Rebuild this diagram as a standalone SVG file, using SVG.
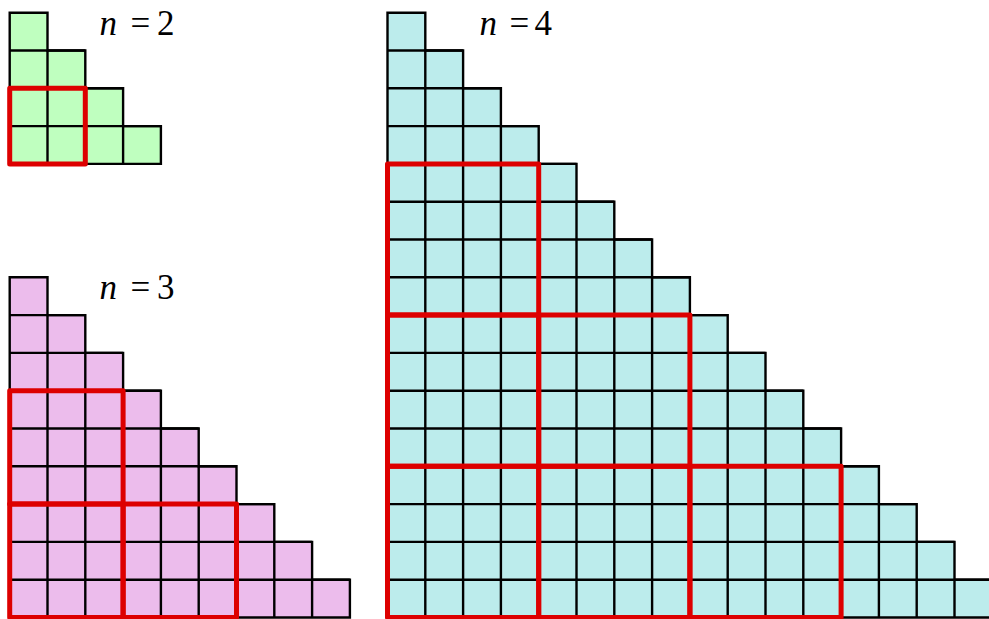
<svg xmlns="http://www.w3.org/2000/svg" width="989" height="619" viewBox="0 0 989 619">
<style>
.cell{stroke:#000;stroke-width:2.4;vector-effect:non-scaling-stroke;stroke-linejoin:miter}
.grid{fill:none;stroke:#000;stroke-width:2.4;vector-effect:non-scaling-stroke}
.red{fill:none;stroke:#dd0000;stroke-width:5;vector-effect:non-scaling-stroke;stroke-linejoin:round}
.g{fill:#bfffbf}.p{fill:#ecbcec}.c{fill:#bcecec}
.lbl{font-family:'Liberation Serif','Times New Roman',serif;font-size:35px;fill:#000}
</style>
<rect width="989" height="619" fill="#fff"/>
<g id="n2">
<g transform="translate(9.7,12.7) scale(37.8)">
<polygon class="cell g" points="0,0 1,0 1,1 2,1 2,2 3,2 3,3 4,3 4,4 0,4"/>
<path class="grid" d="M0 1H2M0 2H3M0 3H4M1 1V4M2 2V4M3 3V4"/>
<rect class="red" x="0" y="2" width="2" height="2"/>
</g>
<g class="lbl">
<text x="99.5" y="35" font-style="italic">n</text><text x="130.5" y="35">=</text><text x="157" y="35">2</text>
</g>
</g>
<g id="n3">
<g transform="translate(9.7,277.3) scale(37.8)">
<polygon class="cell p" points="0,0 1,0 1,1 2,1 2,2 3,2 3,3 4,3 4,4 5,4 5,5 6,5 6,6 7,6 7,7 8,7 8,8 9,8 9,9 0,9"/>
<path class="grid" d="M0 1H2M0 2H3M0 3H4M0 4H5M0 5H6M0 6H7M0 7H8M0 8H9M1 1V9M2 2V9M3 3V9M4 4V9M5 5V9M6 6V9M7 7V9M8 8V9"/>
<rect class="red" x="0" y="3" width="3" height="3"/>
<rect class="red" x="0" y="6" width="3" height="3"/>
<rect class="red" x="3" y="6" width="3" height="3"/>
</g>
<g class="lbl">
<text x="99.5" y="299.3" font-style="italic">n</text><text x="130.5" y="299.3">=</text><text x="157" y="299.3">3</text>
</g>
</g>
<g id="n4">
<g transform="translate(387.5,12.7) scale(37.8)">
<polygon class="cell c" points="0,0 1,0 1,1 2,1 2,2 3,2 3,3 4,3 4,4 5,4 5,5 6,5 6,6 7,6 7,7 8,7 8,8 9,8 9,9 10,9 10,10 11,10 11,11 12,11 12,12 13,12 13,13 14,13 14,14 15,14 15,15 16,15 16,16 0,16"/>
<path class="grid" d="M0 1H2M0 2H3M0 3H4M0 4H5M0 5H6M0 6H7M0 7H8M0 8H9M0 9H10M0 10H11M0 11H12M0 12H13M0 13H14M0 14H15M0 15H16M1 1V16M2 2V16M3 3V16M4 4V16M5 5V16M6 6V16M7 7V16M8 8V16M9 9V16M10 10V16M11 11V16M12 12V16M13 13V16M14 14V16M15 15V16"/>
<rect class="red" x="0" y="4" width="4" height="4"/>
<rect class="red" x="0" y="8" width="4" height="4"/>
<rect class="red" x="4" y="8" width="4" height="4"/>
<rect class="red" x="0" y="12" width="4" height="4"/>
<rect class="red" x="4" y="12" width="4" height="4"/>
<rect class="red" x="8" y="12" width="4" height="4"/>
</g>
<g class="lbl">
<text x="479.5" y="35" font-style="italic">n</text><text x="509.5" y="35">=</text><text x="534.5" y="35">4</text>
</g>
</g>
</svg>
